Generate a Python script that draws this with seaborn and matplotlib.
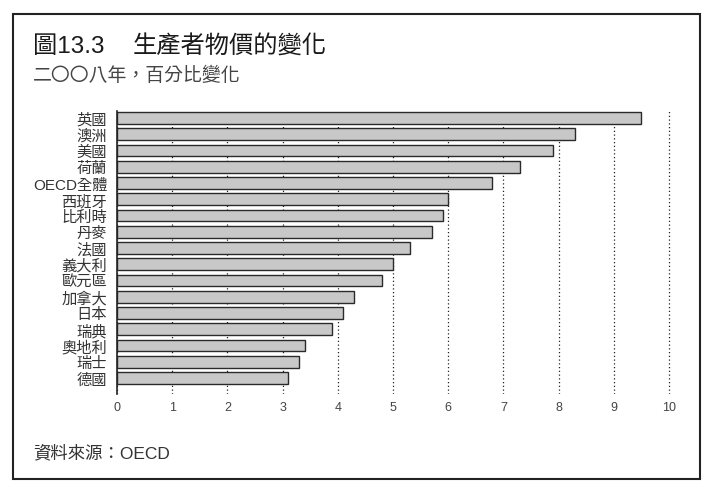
import matplotlib
matplotlib.use("Agg")
import matplotlib.pyplot as plt
import seaborn as sns
import pandas as pd
from matplotlib.patches import Rectangle

# data (percent change, 2008)
countries = ["英國", "澳洲", "美國", "荷蘭", "OECD全體", "西班牙", "比利時", "丹麥", "法國",
             "義大利", "歐元區", "加拿大", "日本", "瑞典", "奧地利", "瑞士", "德國"]
changes = [9.5, 8.3, 7.9, 7.3, 6.8, 6.0, 5.9, 5.7, 5.3, 5.0, 4.8, 4.3, 4.1, 3.9, 3.4, 3.3, 3.1]
xticks = [0, 1, 2, 3, 4, 5, 6, 7, 8, 9, 10]

df = pd.DataFrame({"country": countries, "change": changes})

sns.set_style("white")
# Helvetica-like latin, CJK fallback
plt.rcParams["font.family"] = ["Liberation Sans", "Noto Sans CJK TC"]

W, H = 720, 502
fig = plt.figure(figsize=(W / 100, H / 100), dpi=100)
ax = fig.add_axes([117 / W, 1 - 395 / H, 563 / W, 283 / H])

sns.barplot(data=df, x="change", y="country", orient="h", color="#c8c8c8",
            edgecolor="#2a2a2a", linewidth=1.0, width=0.72, saturation=1, ax=ax)

ax.set_xlim(0, 10.2)
ax.set_ylim(16.985, -0.43)
ax.set_xticks(xticks)
ax.set_xticklabels([str(t) for t in xticks], fontsize=9, color="#444444")
ax.tick_params(axis="x", length=0, pad=5)
ax.tick_params(axis="y", length=0, pad=7, labelsize=11, labelcolor="#333333")
ax.set_xlabel("")
ax.set_ylabel("")

ax.set_axisbelow(True)
ax.grid(axis="x", linestyle=(0, (1, 2)), color="#222222", linewidth=0.9)
ax.grid(axis="y", visible=False)
for s in ["top", "right", "bottom"]:
    ax.spines[s].set_visible(False)
ax.spines["left"].set_color("#222222")
ax.spines["left"].set_linewidth(1.2)

# titles and source
fig.text(33 / W, 1 - 47 / H, "圖13.3", fontsize=17.5, color="#1a1a1a",
         va="center", ha="left", fontweight="medium")
fig.text(133 / W, 1 - 47 / H, "生產者物價的變化", fontsize=17.5, color="#1a1a1a",
         va="center", ha="left", fontweight="medium")
fig.text(33 / W, 1 - 76 / H, "二〇〇八年，百分比變化", fontsize=13.6, color="#444444",
         va="center", ha="left")
fig.text(33 / W, 1 - 453 / H, "資料來源：OECD", fontsize=12.5, color="#333333",
         va="center", ha="left")

# outer frame
fig.patches.append(Rectangle((13 / W, 1 - 480 / H), 687 / W, 465 / H,
                             transform=fig.transFigure, fill=False,
                             edgecolor="#222222", linewidth=1.5))

fig.savefig("out.png", dpi=100, facecolor="white")
